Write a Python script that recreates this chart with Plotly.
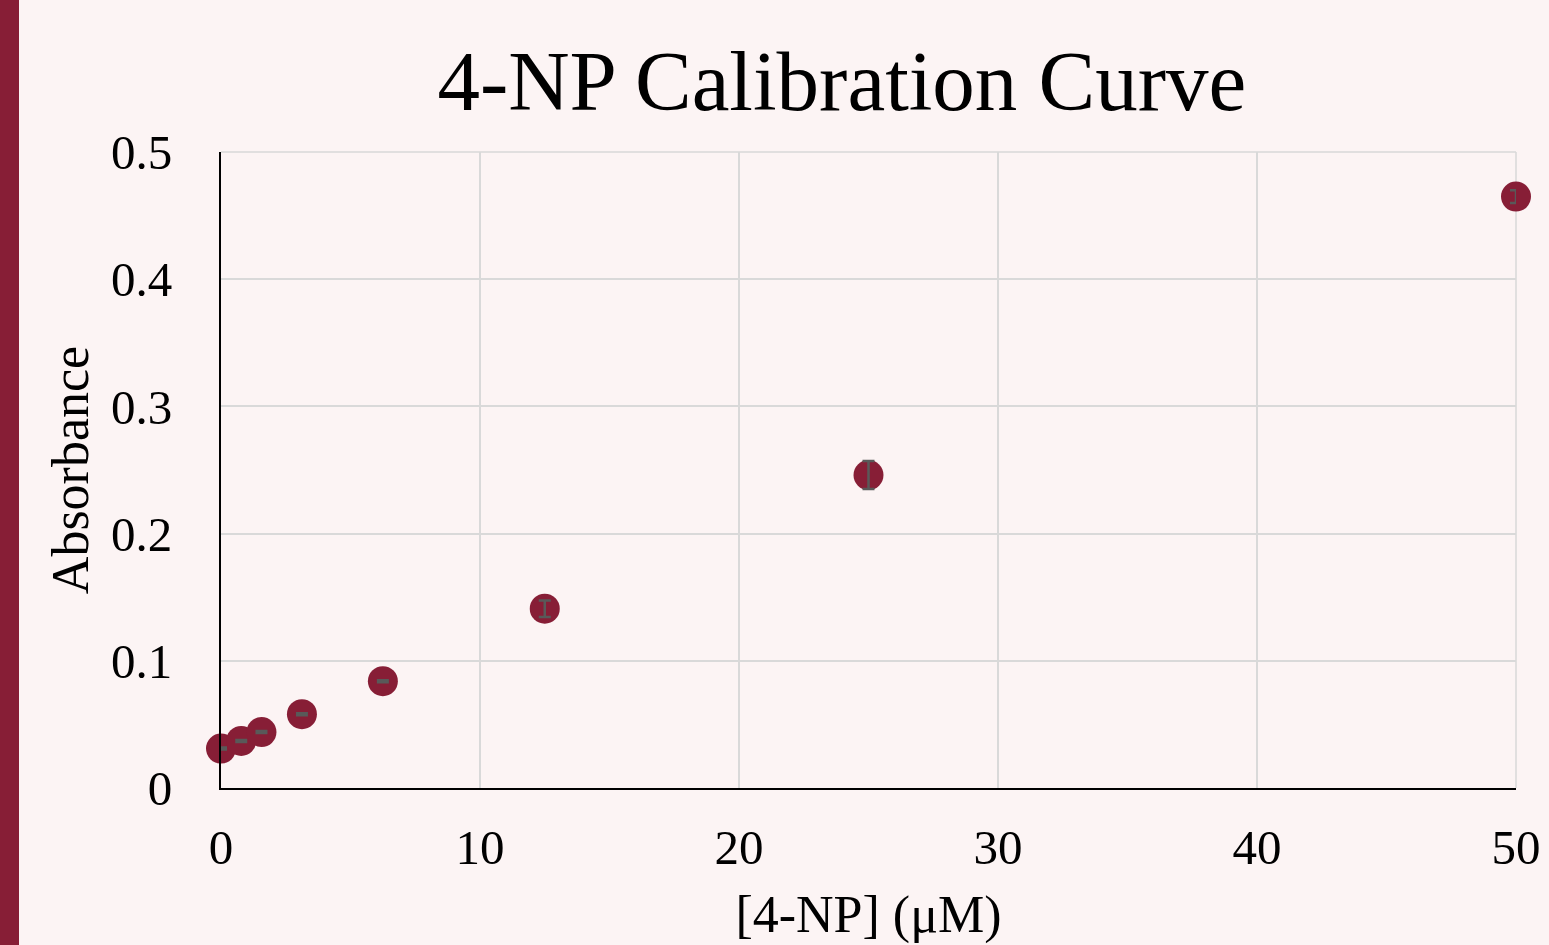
import plotly.graph_objects as go

conc = [0, 0.78125, 1.5625, 3.125, 6.25, 12.5, 25, 50]
absorbance = [0.031, 0.037, 0.044, 0.058, 0.084, 0.141, 0.246, 0.465]
err = [0.0008, 0.0008, 0.0008, 0.0008, 0.0008, 0.0065, 0.011, 0.005]

x_ticks = [0, 10, 20, 30, 40, 50]
y_ticks = [0, 0.1, 0.2, 0.3, 0.4, 0.5]
y_tick_labels = ["0", "0.1", "0.2", "0.3", "0.4", "0.5"]

red = "#871E36"
bg = "#FCF4F4"
grid = "#D9D9D9"
font = "Liberation Serif"

fig = go.Figure()
fig.add_trace(go.Scatter(
    x=conc, y=absorbance, mode="markers",
    marker=dict(size=30, color=red),
    showlegend=False, cliponaxis=False, hoverinfo="skip",
))
# error bars drawn above the markers
fig.add_trace(go.Scatter(
    x=conc, y=absorbance, mode="markers",
    marker=dict(size=30, color="rgba(0,0,0,0)"),
    error_y=dict(type="data", array=err, visible=True, color="#595959",
                 thickness=2.5, width=6),
    showlegend=False, cliponaxis=False,
))

fig.update_layout(
    width=1549, height=945,
    paper_bgcolor=bg, plot_bgcolor=bg,
    margin=dict(l=221, r=33, t=152, b=157),
    font=dict(family=font, color="black"),
    title=dict(text="4-NP Calibration Curve", x=0.5435, xanchor="center",
               y=1 - 80 / 945, yanchor="middle",
               font=dict(size=85, family=font, color="black")),
    xaxis=dict(range=[0, 50], tickvals=x_ticks, showgrid=True,
               gridcolor=grid, gridwidth=1.5, zeroline=False,
               showline=True, linecolor="black", linewidth=2,
               automargin=False,
               tickfont=dict(size=49, family=font), ticks="outside",
               ticklen=15, tickcolor=bg,
               title=dict(text="[4-NP] (μM)", font=dict(size=52, family=font),
                          standoff=22)),
    yaxis=dict(range=[0, 0.5], tickvals=y_ticks, ticktext=y_tick_labels,
               showgrid=True, gridcolor=grid, gridwidth=1.5,
               zeroline=False, showline=True, linecolor="black", linewidth=2,
               tickfont=dict(size=49, family=font), ticks="outside",
               ticklen=37, tickcolor=bg,
               title=dict(text="Absorbance", font=dict(size=52, family=font),
                          standoff=6)),
    shapes=[
        dict(type="rect", xref="paper", yref="paper",
             xsizemode="pixel", xanchor=0, x0=-221, x1=-202,
             y0=-0.5, y1=1.5, fillcolor=red, line=dict(width=0),
             layer="above"),
        dict(type="line", xref="paper", yref="paper", x0=0, x1=1, y0=1, y1=1,
             line=dict(color=grid, width=1.5), layer="below"),
        dict(type="line", xref="paper", yref="paper", x0=1, x1=1, y0=0, y1=1,
             line=dict(color=grid, width=1.5), layer="below"),
    ],
)

fig.write_html("out.html", config={"displayModeBar": False},
               post_script="document.body.style.margin='0';")
